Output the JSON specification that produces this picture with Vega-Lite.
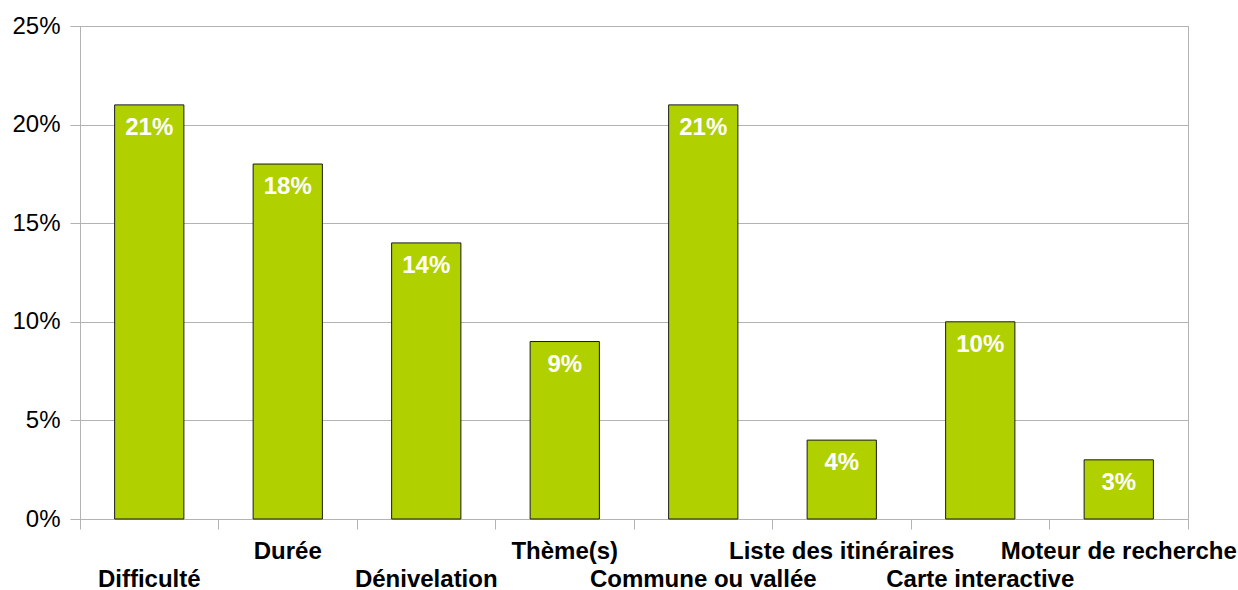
{
  "$schema": "https://vega.github.io/schema/vega-lite/v6.json",
  "autosize": "none",
  "width": 1108,
  "height": 493,
  "padding": {"left": 80, "top": 26, "right": 50, "bottom": 71},
  "background": "white",
  "config": {
    "view": {"stroke": "#b3b3b3", "strokeWidth": 1},
    "font": "Liberation Sans"
  },
  "data": {
    "values": [
      {"cat": "Difficulté", "v": 0.21},
      {"cat": "Durée", "v": 0.18},
      {"cat": "Dénivelation", "v": 0.14},
      {"cat": "Thème(s)", "v": 0.09},
      {"cat": "Commune ou vallée", "v": 0.21},
      {"cat": "Liste des itinéraires", "v": 0.04},
      {"cat": "Carte interactive", "v": 0.10},
      {"cat": "Moteur de recherche", "v": 0.03}
    ]
  },
  "encoding": {
    "x": {
      "field": "cat",
      "type": "nominal",
      "sort": null,
      "scale": {"paddingInner": 0, "paddingOuter": 0},
      "axis": {
        "title": null,
        "labelAngle": 0,
        "bandPosition": 1,
        "tickExtra": true,
        "labelFont": "Liberation Sans",
        "labelFontWeight": "bold",
        "labelFontSize": 24,
        "labelColor": "black",
        "labelBaseline": "top",
        "labelOverlap": false,
        "labelBound": false,
        "labelLimit": 0,
        "labelPadding": {"condition": {"test": "indexof(['Difficulté','Dénivelation','Commune ou vallée','Carte interactive'], datum.value) >= 0", "value": 38}, "value": 10},
        "tickSize": 10,
        "tickColor": "#b3b3b3",
        "domainColor": "#b3b3b3",
        "grid": false
      }
    },
    "y": {
      "field": "v",
      "type": "quantitative",
      "scale": {"domain": [0, 0.25], "nice": false},
      "axis": {
        "title": null,
        "values": [0, 0.05, 0.1, 0.15, 0.2, 0.25],
        "format": ".0%",
        "labelFont": "Liberation Sans",
        "labelFontSize": 24,
        "labelColor": "black",
        "labelPadding": 10,
        "tickSize": 10,
        "tickColor": "#b3b3b3",
        "domainColor": "#b3b3b3",
        "gridColor": "#b3b3b3",
        "grid": true
      }
    }
  },
  "layer": [
    {
      "mark": {"type": "bar", "width": {"band": 0.5}, "color": "#b0d000", "stroke": "#1a1a1a", "strokeWidth": 1}
    },
    {
      "mark": {"type": "text", "baseline": "top", "dy": 11, "fontSize": 24, "fontWeight": "bold", "color": "white", "font": "Liberation Sans"},
      "encoding": {
        "text": {"field": "v", "type": "quantitative", "format": ".0%"}
      }
    }
  ]
}
